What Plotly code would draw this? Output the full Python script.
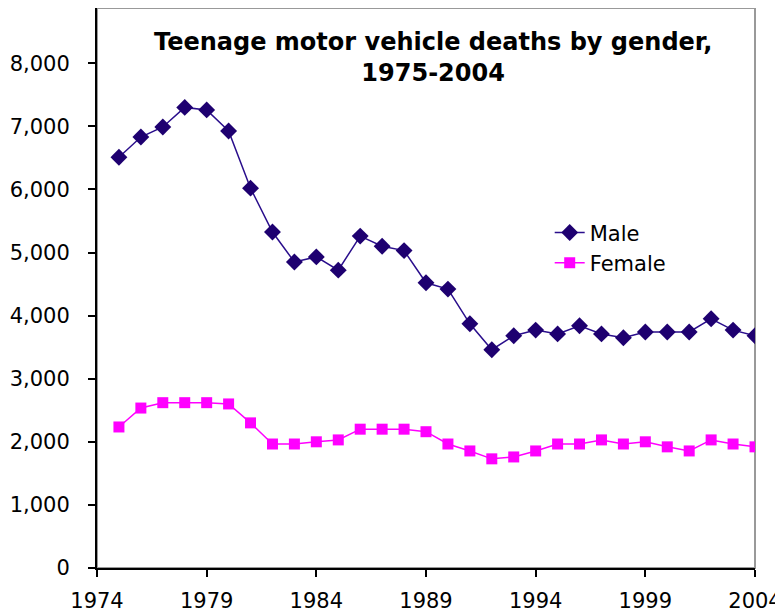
import plotly.graph_objects as go

years = list(range(1975, 2005))
male = [6510, 6830, 6990, 7300, 7260, 6925, 6020, 5325, 4850, 4930, 4720, 5260, 5100, 5030,
        4520, 4420, 3870, 3460, 3680, 3770, 3710, 3840, 3710, 3650, 3740, 3740, 3740, 3950,
        3770, 3680]
female = [2235, 2535, 2620, 2620, 2620, 2600, 2300, 1965, 1965, 2000, 2030, 2200, 2200, 2200,
          2160, 1965, 1855, 1730, 1760, 1855, 1965, 1965, 2030, 1965, 2000, 1920, 1855, 2030,
          1965, 1920]
x_ticks = [1974, 1979, 1984, 1989, 1994, 1999, 2004]
y_ticks = [0, 1000, 2000, 3000, 4000, 5000, 6000, 7000, 8000]

font = "DejaVu Sans, Verdana, sans-serif"

fig = go.Figure()
fig.add_trace(go.Scatter(x=years, y=male, name="Male", mode="lines+markers",
                         line=dict(color="#2A0E8C", width=1.5),
                         marker=dict(symbol="diamond", size=13, color="#1E0070")))
fig.add_trace(go.Scatter(x=years, y=female, name="Female", mode="lines+markers",
                         line=dict(color="#FF00FF", width=1.5),
                         marker=dict(symbol="square", size=11, color="#FF00FF")))

fig.update_layout(
    width=775, height=607,
    margin=dict(l=89, r=28, t=0, b=47),
    plot_bgcolor="white", paper_bgcolor="white",
    font=dict(family=font, size=21, color="black"),
    showlegend=True,
    legend=dict(x=0.688, y=0.635, xanchor="left", yanchor="top",
                bgcolor="rgba(0,0,0,0)", font=dict(size=21), tracegroupgap=0),
    shapes=[dict(type="rect", xref="paper", yref="paper", x0=0, x1=1, y0=0, y1=1,
                 line=dict(color="#999999", width=2), layer="below")],
    annotations=[dict(text="<b>Teenage motor vehicle deaths by gender,<br>1975-2004</b>",
                      xref="paper", yref="paper", x=0.51, y=0.968, xanchor="center",
                      yanchor="top", showarrow=False, font=dict(size=24, family=font))],
)
fig.update_xaxes(range=[1974, 2004], tickvals=x_ticks, ticktext=[str(v) for v in x_ticks],
                 showgrid=False, zeroline=False, showline=True, linecolor="black", linewidth=2,
                 ticks="outside", ticklen=7, tickcolor="black", tickwidth=2,
                 ticklabelstandoff=6, tickfont=dict(size=21))
fig.update_yaxes(range=[0, 8875], tickvals=y_ticks, tickformat=",",
                 showgrid=False, zeroline=False, showline=True, linecolor="black", linewidth=2,
                 ticks="outside", ticklen=7, tickcolor="black", tickwidth=2,
                 ticklabelstandoff=14, tickfont=dict(size=21))

fig.write_html("out.html")
